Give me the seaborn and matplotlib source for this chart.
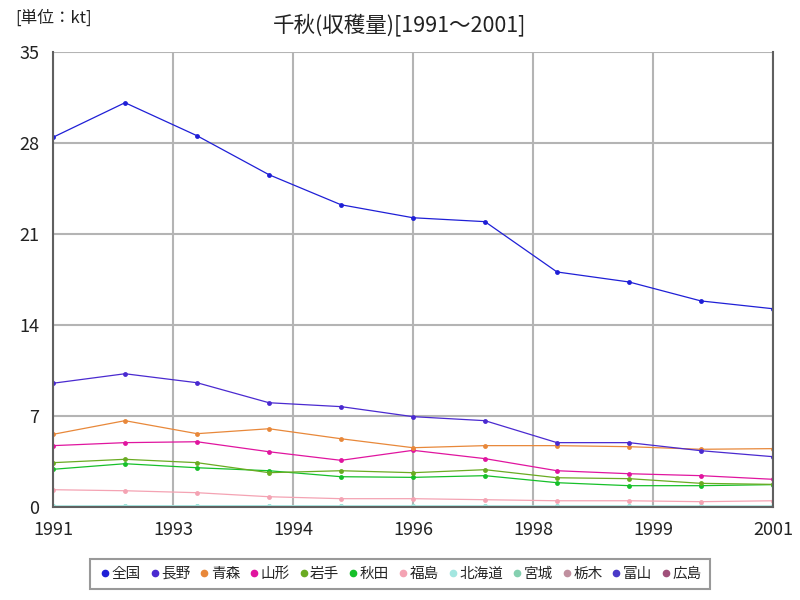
import numpy as np
import pandas as pd
import matplotlib
matplotlib.use("Agg")
import matplotlib.pyplot as plt
import seaborn as sns
from matplotlib.lines import Line2D

years = [1991, 1992, 1993, 1994, 1995, 1996, 1997, 1998, 1999, 2000, 2001]
tick_labels = ["1991", "1993", "1994", "1996", "1998", "1999", "2001"]
regions = ["全国", "長野", "青森", "山形", "岩手", "秋田", "福島", "北海道", "宮城", "栃木", "富山", "広島"]

zenkoku = [28.44, 31.1, 28.56, 25.56, 23.25, 22.25, 21.95, 18.08, 17.31, 15.85, 15.25]
nagano = [9.52, 10.25, 9.56, 8.02, 7.72, 6.95, 6.64, 4.95, 4.95, 4.33, 3.87]
aomori = [5.59, 6.64, 5.64, 6.02, 5.25, 4.56, 4.72, 4.72, 4.64, 4.44, 4.49]
yamagata = [4.72, 4.95, 5.02, 4.25, 3.59, 4.36, 3.72, 2.79, 2.56, 2.41, 2.13]
iwate = [3.41, 3.67, 3.41, 2.64, 2.79, 2.64, 2.87, 2.25, 2.18, 1.82, 1.74]
akita = [2.90, 3.33, 3.02, 2.79, 2.33, 2.28, 2.41, 1.87, 1.64, 1.64, 1.72]
fukushima = [1.33, 1.25, 1.10, 0.79, 0.64, 0.64, 0.56, 0.48, 0.48, 0.41, 0.48]
hokkaido = [0.08, 0.10, 0.10, 0.10, 0.09, 0.09, 0.09, 0.08, 0.08, 0.08, 0.08]
miyagi = [0.05, 0.05, 0.05, 0.05, 0.05, 0.05, 0.05, 0.05, 0.05, 0.05, 0.05]
tochigi = [0.02, 0.02, 0.02, 0.02, 0.02, 0.02, 0.02, 0.02, 0.02, 0.02, 0.02]
toyama = [0.01, 0.01, 0.01, 0.01, 0.01, 0.01, 0.01, 0.01, 0.01, 0.01, 0.01]
hiroshima = [0.01, 0.01, 0.01, 0.01, 0.01, 0.01, 0.01, 0.01, 0.01, 0.01, 0.01]

series = [zenkoku, nagano, aomori, yamagata, iwate, akita, fukushima,
          hokkaido, miyagi, tochigi, toyama, hiroshima]
colors = ["#1f1fd6", "#4a2ad0", "#e8883a", "#e0159f", "#6aab22", "#16c02a",
          "#f4a3b3", "#a3e6e0", "#85d0b0", "#c0909f", "#4a3ac8", "#a0507a"]

rows = []
for name, vals in zip(regions, series):
    for y, v in zip(years, vals):
        rows.append({"year": y, "region": name, "value": v})
df = pd.DataFrame(rows)

sns.set_style("white")
plt.rcParams['font.family'] = ['Noto Sans CJK JP', 'DejaVu Sans']

fig = plt.figure(figsize=(8, 6), dpi=100)
ax = fig.add_axes([53/800, 1-507/600, 720/800, 455/600])

palette = dict(zip(regions, colors))
sns.lineplot(data=df, x="year", y="value", hue="region", hue_order=regions[::-1],
             palette=palette, marker="o", markersize=3.5, markeredgewidth=0,
             linewidth=0.9, ax=ax, legend=False)

ax.set_xlim(1991, 2001)
ax.set_ylim(0, 35)
ticks = np.linspace(1991, 2001, len(tick_labels))
ax.set_xticks(ticks)
ax.set_xticklabels(tick_labels)
ax.set_yticks(np.arange(0, 36, 7))
ax.set_xlabel("")
ax.set_ylabel("")
ax.grid(True, color="#b4b4b4", linewidth=1.5)
ax.set_axisbelow(True)
for s in ["left", "bottom", "right"]:
    ax.spines[s].set_color("#606060")
    ax.spines[s].set_linewidth(1.5)
ax.spines["top"].set_visible(False)
ax.tick_params(axis="both", length=0, labelsize=13, colors="#222222")
ax.tick_params(axis="x", pad=10)
ax.tick_params(axis="y", pad=10)

fig.text(400/800, 1-25/600, "千秋(収穫量)[1991～2001]", ha="center", va="center",
         fontsize=15.5, color="#222222")
fig.text(15/800, 1-18/600, "[単位：kt]", ha="left", va="center",
         fontsize=12, color="#222222")

handles = [Line2D([0], [0], marker="o", linestyle="", color=c, markersize=4.5)
           for c in colors]
leg = fig.legend(handles, regions, loc="center", bbox_to_anchor=(400/800, 1-574/600),
                 ncol=12, frameon=True, fontsize=10.5, handletextpad=0.0,
                 columnspacing=0.5, borderpad=0.55, fancybox=False,
                 handlelength=0.9)
leg.get_frame().set_edgecolor("#808080")
leg.get_frame().set_linewidth(1.5)

fig.savefig("out.png", dpi=100)
